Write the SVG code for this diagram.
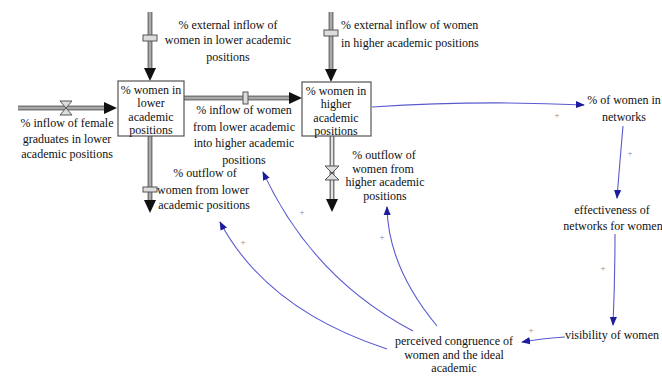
<svg xmlns="http://www.w3.org/2000/svg" width="662" height="377" viewBox="0 0 662 377">
<style>
text{font-family:"Liberation Serif","Times New Roman",serif;font-size:12px;fill:#111}
.c{text-anchor:middle}
.pipeO{stroke:#7a7a7a;stroke-width:5;fill:none}
.pipeI{stroke:#b8b8b8;stroke-width:1.6;fill:none}
.pipeW{stroke:#fff;stroke-width:1.6;fill:none}
.stock{fill:#fff;stroke:#555;stroke-width:1.2}
.valve{fill:#ddd;stroke:#555;stroke-width:1}
.link{stroke:#5a5ad0;stroke-width:1.1;fill:none}
.pl{font-size:9px;fill:#888}
</style>
<defs>
<marker id="la" viewBox="0 0 10 10" refX="9" refY="5" markerWidth="9" markerHeight="9" markerUnits="userSpaceOnUse" orient="auto"><path d="M0,1 L10,5 L0,9 z" fill="#1c1c9c"/></marker>
</defs>
<g id="flows">
<g id="flow-inflow-grad">
<path class="pipeO" d="M18,108 H107"/><path class="pipeI" d="M18,108 H107"/>
<path d="M104,102 L117,108 L104,114 z" fill="#111"/>
<path class="valve" d="M60,101 H72 L60,115 H72 z"/>
</g>
<g id="flow-ext-lower">
<path class="pipeO" d="M150,12 V71"/><path class="pipeI" d="M150,12 V71"/>
<path d="M144,68 L150,81 L156,68 z" fill="#111"/>
<rect class="valve" x="143" y="35" width="14" height="6"/>
</g>
<g id="flow-lower-higher">
<path class="pipeO" d="M184,98 H292"/><path class="pipeI" d="M184,98 H292"/>
<path d="M289,92 L302,98 L289,104 z" fill="#111"/>
<rect class="valve" x="243" y="92" width="5" height="12"/>
</g>
<g id="flow-out-lower">
<path class="pipeO" d="M150,136 V203"/><path class="pipeI" d="M150,136 V203"/>
<path d="M144,200 L150,213 L156,200 z" fill="#111"/>
<rect class="valve" x="143" y="187" width="14" height="5"/>
</g>
<g id="flow-ext-higher">
<path class="pipeO" d="M331,12 V72"/><path class="pipeI" d="M331,12 V72"/>
<path d="M325,69 L331,82 L337,69 z" fill="#111"/>
<rect class="valve" x="324" y="30" width="14" height="6"/>
</g>
<g id="flow-out-higher">
<path class="pipeO" d="M332,136 V202"/><path class="pipeW" d="M332,136 V202"/>
<path d="M326,199 L332,212 L338,199 z" fill="#111"/>
<path class="valve" d="M325,166 H339 L325,180 H339 z" fill="none"/>
</g>
</g>
<g id="stock-lower">
<rect class="stock" x="118" y="81" width="66" height="55"/>
<text class="c" x="151" y="94">% women in</text>
<text class="c" x="151" y="107">lower</text>
<text class="c" x="151" y="121">academic</text>
<text class="c" x="151" y="134">positions</text>
</g>
<g id="stock-higher">
<rect class="stock" x="302" y="82" width="69" height="54"/>
<text class="c" x="336" y="95">% women in</text>
<text class="c" x="336" y="108">higher</text>
<text class="c" x="336" y="122">academic</text>
<text class="c" x="336" y="135">positions</text>
</g>
<g id="label-inflow-grad">
<text class="c" x="67" y="127">% inflow of female</text>
<text class="c" x="67" y="143">graduates in lower</text>
<text class="c" x="67" y="158">academic positions</text>
</g>
<g id="label-ext-lower">
<text class="c" x="228" y="29">% external inflow of</text>
<text class="c" x="228" y="44">women in lower academic</text>
<text class="c" x="228" y="61">positions</text>
</g>
<g id="label-lower-higher">
<text class="c" x="244" y="114">% inflow of women</text>
<text class="c" x="244" y="131">from lower academic</text>
<text class="c" x="244" y="147">into higher academic</text>
<text class="c" x="244" y="164">positions</text>
</g>
<g id="label-out-lower">
<text class="c" x="205" y="177">% outflow of</text>
<text class="c" x="203" y="194">women from lower</text>
<text class="c" x="204" y="209">academic positions</text>
</g>
<g id="label-ext-higher">
<text x="341" y="29">% external inflow of women</text>
<text x="341" y="47">in higher academic positions</text>
</g>
<g id="label-out-higher">
<text class="c" x="384" y="159">% outflow of</text>
<text class="c" x="383" y="173">women from</text>
<text class="c" x="385" y="186">higher academic</text>
<text class="c" x="385" y="200">positions</text>
</g>
<g id="networks">
<text class="c" x="624" y="104">% of women in</text>
<text class="c" x="624" y="121">networks</text>
</g>
<g id="effectiveness">
<text class="c" x="612" y="214">effectiveness of</text>
<text class="c" x="613" y="230">networks for women</text>
</g>
<g id="visibility">
<text class="c" x="612" y="339">visibility of women</text>
</g>
<g id="congruence">
<text class="c" x="454" y="345">perceived congruence of</text>
<text class="c" x="454" y="359">women and the ideal</text>
<text class="c" x="454" y="372">academic</text>
</g>
<g id="links">
<path class="link" marker-end="url(#la)" d="M372,107 Q480,100 584,105"/>
<text class="pl c" x="557" y="118">+</text>
<path class="link" marker-end="url(#la)" d="M623,126 Q620,160 617,198"/>
<text class="pl c" x="630" y="156">+</text>
<path class="link" marker-end="url(#la)" d="M615,234 Q615,280 613,325"/>
<text class="pl c" x="603" y="271">+</text>
<path class="link" marker-end="url(#la)" d="M565,337 Q545,338 522,342"/>
<text class="pl c" x="531" y="333">+</text>
<path class="link" marker-end="url(#la)" d="M437,326 Q388,267 387,207"/>
<text class="pl c" x="382" y="240">+</text>
<path class="link" marker-end="url(#la)" d="M413,331 Q312,278 263,172"/>
<text class="pl c" x="302" y="215">+</text>
<path class="link" marker-end="url(#la)" d="M387,349 Q267,310 220,222"/>
<text class="pl c" x="243" y="245">+</text>
</g>
</svg>
